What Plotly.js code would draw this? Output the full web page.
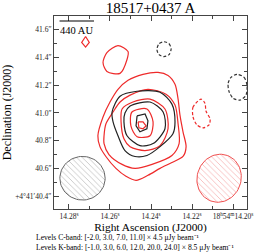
<!DOCTYPE html>
<html><head><meta charset="utf-8">
<script src="https://cdn.plot.ly/plotly-3.0.1.min.js"></script>
<style>html,body{margin:0;padding:0;background:#fff}#chart{width:264px;height:252px}</style>
</head><body><div id="chart"></div>
<script>
// ---- data: contour vertices (RA seconds of 18h54m, Dec arcsec of +4°41') ----
// K-band (red) contours, levels x 8.5 uJy/beam
const K3_main_ra  = [14.2659, 14.2634, 14.2600, 14.2561, 14.2512, 14.2439, 14.2366, 14.2317, 14.2283, 14.2268, 14.2259, 14.2244, 14.2229, 14.2244, 14.2298, 14.2356, 14.2415, 14.2473, 14.2522, 14.2571, 14.2620, 14.2649];
const K3_main_dec = [40.836, 40.971, 41.079, 41.171, 41.236, 41.279, 41.293, 41.271, 41.207, 41.100, 40.986, 40.864, 40.757, 40.686, 40.643, 40.600, 40.550, 40.514, 40.543, 40.600, 40.686, 40.757];
const K3_blob_ra  = [14.2561, 14.2512, 14.2517, 14.2551, 14.2615, 14.2634, 14.2615];
const K3_blob_dec = [41.486, 41.443, 41.386, 41.286, 41.300, 41.364, 41.436];
const K3_knot_ra  = [14.2719, 14.2701, 14.2719, 14.2738];
const K3_knot_dec = [41.552, 41.509, 41.476, 41.509];
const K6_ra  = [14.2629, 14.2620, 14.2585, 14.2551, 14.2502, 14.2415, 14.2327, 14.2283, 14.2268, 14.2263, 14.2298, 14.2395, 14.2478, 14.2541, 14.2605, 14.2629];
const K6_dec = [40.836, 40.921, 41.007, 41.079, 41.129, 41.171, 41.136, 41.057, 40.921, 40.779, 40.693, 40.629, 40.600, 40.629, 40.700, 40.779];
const K12_ra  = [14.2541, 14.2488, 14.2405, 14.2332, 14.2317, 14.2356, 14.2429, 14.2502, 14.2532, 14.2546];
const K12_dec = [41.029, 41.079, 41.100, 41.029, 40.886, 40.764, 40.729, 40.757, 40.814, 40.936];
const K20_ra  = [14.2493, 14.2420, 14.2390, 14.2405, 14.2468, 14.2498];
const K20_dec = [41.007, 41.029, 40.936, 40.836, 40.829, 40.907];
const K24_ra  = [14.2463, 14.2439, 14.2424, 14.2439, 14.2459];
const K24_dec = [40.936, 40.936, 40.907, 40.886, 40.893];
const Kneg_ra  = [14.2156, 14.2195, 14.2195, 14.2176, 14.2146, 14.2117, 14.2112, 14.2132, 14.2137];
const Kneg_dec = [41.100, 41.043, 40.971, 40.914, 40.893, 40.914, 40.957, 41.014, 41.071];

// C-band (black) contours, levels x 4.5 uJy/beam
const C3_ra  = [14.2590, 14.2551, 14.2468, 14.2356, 14.2298, 14.2283, 14.2293, 14.2356, 14.2420, 14.2478, 14.2527, 14.2561, 14.2585];
const C3_dec = [41.007, 41.121, 41.157, 41.150, 41.064, 40.936, 40.850, 40.757, 40.693, 40.686, 40.729, 40.836, 40.936];
const C7_ra  = [14.2527, 14.2502, 14.2405, 14.2341, 14.2332, 14.2390, 14.2454, 14.2517, 14.2532];
const C7_dec = [41.000, 41.050, 41.079, 41.007, 40.886, 40.779, 40.764, 40.836, 40.936];
const C11_ra  = [14.2468, 14.2429, 14.2415, 14.2420, 14.2454, 14.2473];
const C11_dec = [40.979, 40.993, 40.943, 40.886, 40.864, 40.907];
const Cneg1_ra  = [14.2337, 14.2312, 14.2302, 14.2312, 14.2337, 14.2361, 14.2371, 14.2361];
const Cneg1_dec = [41.514, 41.500, 41.464, 41.421, 41.407, 41.421, 41.457, 41.500];
const Cneg2_ra  = [14.1980, 14.1946, 14.1932, 14.1937, 14.1966, 14.2000, 14.2020, 14.2024, 14.2010];
const Cneg2_dec = [41.279, 41.257, 41.200, 41.129, 41.093, 41.107, 41.157, 41.214, 41.257];

// synthesized beams: [RA centre (s), Dec centre ("), major ("), minor ("), PA (deg)]
const beamC = [14.2734, 40.529, 0.330, 0.315, 90];
const beamK = [14.2068, 40.529, 0.350, 0.320, -20];

// scale bar: [RA start, RA end, Dec]
const scaleBar = [14.2846, 14.2678, 41.664];
const scaleLabel = '440 AU';

// axis ticks
const RA_TICKS = [14.28, 14.26, 14.24, 14.22, 14.20];
const RA_TICK_TEXT = ['14.28<sup>s</sup>', '14.26<sup>s</sup>', '14.24<sup>s</sup>', '14.22<sup>s</sup>', '18<sup>h</sup>54<sup>m</sup>14.20<sup>s</sup>'];
const DEC_TICKS = [40.4, 40.6, 40.8, 41.0, 41.2, 41.4, 41.6];
const DEC_TICK_TEXT = ['+4°41′40.4″', '40.6″', '40.8″', '41.0″', '41.2″', '41.4″', '41.6″'];

const TITLE = '18517+0437 A';
const LEVELS_C = 'Levels C-band: [-2.0, 3.0, 7.0, 11.0] × 4.5 μJy beam⁻¹';
const LEVELS_K = 'Levels K-band: [-1.0, 3.0, 6.0, 12.0, 20.0, 24.0] × 8.5 μJy beam⁻¹';

// ---- build ----
const RED = '#ee2a2a', BLACK = '#222222';
const SERIF = 'Liberation Serif, Times New Roman, serif';

function closed(a) { return a.concat([a[0]]); }
function contour(ra, dec, color, dashed, smooth) {
  return {
    type: 'scatter', mode: 'lines', x: closed(ra), y: closed(dec), hoverinfo: 'skip',
    line: { color: color, width: 1.2, dash: dashed ? '3px,2px' : 'solid',
            shape: smooth ? 'spline' : 'linear', smoothing: 0.8 }
  };
}
function beam(b, lineColor, patColor) {
  const ra0 = b[0], dec0 = b[1], a = b[2] / 2, c = b[3] / 2, pa = b[4] * Math.PI / 180;
  const k = 15 * Math.cos((4 + 41 / 60 + dec0 / 3600) * Math.PI / 180);
  const xs = [], ys = [];
  for (let i = 0; i <= 72; i++) {
    const t = i / 72 * 2 * Math.PI;
    const u = a * Math.cos(t), v = c * Math.sin(t);
    const dN = u * Math.cos(pa) - v * Math.sin(pa);
    const dE = u * Math.sin(pa) + v * Math.cos(pa);
    xs.push(ra0 + dE / k); ys.push(dec0 + dN);
  }
  return {
    type: 'scatter', mode: 'lines', x: xs, y: ys, hoverinfo: 'skip', fill: 'toself',
    fillcolor: 'rgba(255,255,255,0)',
    fillpattern: { shape: '\\', fgcolor: patColor, bgcolor: 'rgba(255,255,255,0)', size: 4, solidity: 0.15 },
    line: { color: lineColor, width: 1 }
  };
}

const traces = [
  beam(beamC, '#666666', '#aaaaaa'),
  beam(beamK, '#f05050', '#f49a9a'),
  contour(K3_main_ra, K3_main_dec, RED, false, true),
  contour(K3_blob_ra, K3_blob_dec, RED, false, true),
  contour(K3_knot_ra, K3_knot_dec, RED, false, false),
  contour(K6_ra, K6_dec, RED, false, true),
  contour(K12_ra, K12_dec, RED, false, true),
  contour(K20_ra, K20_dec, RED, false, true),
  contour(K24_ra, K24_dec, RED, false, false),
  contour(Kneg_ra, Kneg_dec, RED, true, true),
  contour(C3_ra, C3_dec, BLACK, false, true),
  contour(C7_ra, C7_dec, BLACK, false, true),
  contour(C11_ra, C11_dec, BLACK, false, false),
  contour(Cneg1_ra, Cneg1_dec, '#333333', true, true),
  contour(Cneg2_ra, Cneg2_dec, '#333333', true, true)
];

const axisCommon = {
  showgrid: false, zeroline: false, showline: true, linecolor: '#444', linewidth: 1,
  mirror: 'allticks', ticks: 'inside', ticklen: 5, tickwidth: 1, tickcolor: '#444',
  tickmode: 'array', tickfont: { family: SERIF, size: 7.5, color: '#222' }
};

const layout = {
  width: 264, height: 252,
  margin: { l: 54, r: 17, t: 16, b: 43 },
  paper_bgcolor: '#fff', plot_bgcolor: '#fff', showlegend: false,
  title: { text: TITLE, font: { family: SERIF, size: 15, color: '#000' },
           x: 0.5, xref: 'paper', xanchor: 'center', y: 1 - 8 / 252, yref: 'container', yanchor: 'middle' },
  xaxis: Object.assign({}, axisCommon, {
    range: [14.2873, 14.1932], tickvals: RA_TICKS, ticktext: RA_TICK_TEXT,
    minor: { tickmode: 'linear', tick0: 14.20, dtick: 0.01, ticks: 'inside', ticklen: 3, tickcolor: '#444' },
    title: { text: 'Right Ascension (J2000)', font: { family: SERIF, size: 11.4, color: '#000' }, standoff: 0 }
  }),
  yaxis: Object.assign({}, axisCommon, {
    range: [40.307, 41.70], tickvals: DEC_TICKS, ticktext: DEC_TICK_TEXT,
    minor: { tickmode: 'linear', tick0: 40.4, dtick: 0.1, ticks: 'inside', ticklen: 3, tickcolor: '#444' },
    title: { text: 'Declination (J2000)', font: { family: SERIF, size: 12, color: '#000' }, standoff: 4 }
  }),
  shapes: [
    { type: 'line', xref: 'x', yref: 'y', x0: scaleBar[0], x1: scaleBar[1], y0: scaleBar[2], y1: scaleBar[2],
      line: { color: '#000', width: 1.2 } }
  ],
  annotations: [
    { text: scaleLabel, xref: 'x', yref: 'y', x: (scaleBar[0] + scaleBar[1]) / 2, y: 41.598,
      showarrow: false, font: { family: SERIF, size: 10.5, color: '#000' } },
    { text: LEVELS_C, xref: 'paper', yref: 'paper', x: (35 - 54) / 193, y: (209 - 237.6) / 193,
      xanchor: 'left', yanchor: 'middle', showarrow: false, borderpad: 0, font: { family: SERIF, size: 7.6, color: '#000' } },
    { text: LEVELS_K, xref: 'paper', yref: 'paper', x: (35 - 54) / 193, y: (209 - 247) / 193,
      xanchor: 'left', yanchor: 'middle', showarrow: false, borderpad: 0, font: { family: SERIF, size: 7.6, color: '#000' } }
  ]
};

Plotly.newPlot('chart', traces, layout, { staticPlot: true, displayModeBar: false });
</script>
</body></html>
